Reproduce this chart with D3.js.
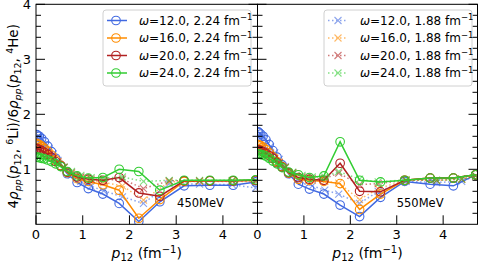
<!DOCTYPE html>
<html>
<head>
<meta charset="utf-8">
<script src="https://cdn.jsdelivr.net/npm/d3@7"></script>
<style>
    body { margin: 0; background: #fff; }
    svg { font-family: 'DejaVu Sans', sans-serif; }
</style>
</head>
<body>
<div id="chart"></div>
<script>
/* eslint-disable one-var */

// momentum mesh, fm^-1
var pSolid = [0.01, 0.03, 0.07, 0.12, 0.18, 0.25, 0.33, 0.42, 0.53, 0.67, 0.88, 1.12, 1.43, 1.78, 2.2, 2.65, 3.17, 3.72, 4.22, 4.7];
var pDotLeft = [0.01, 0.04, 0.08, 0.13, 0.2, 0.28, 0.37, 0.47, 0.6, 0.76, 0.96, 1.18, 1.45, 1.85, 2.3, 2.85, 3.5, 4.2, 4.7];
var pDotRight = [0.01, 0.04, 0.08, 0.13, 0.2, 0.28, 0.37, 0.47, 0.6, 0.76, 0.96, 1.18, 1.45, 1.75, 2.2, 2.6, 3.2, 3.86, 4.4, 4.7];

var omegas = ['12.0', '16.0', '20.0', '24.0'];
var colours = ['#4169e1', '#ff8c00', '#b22222', '#32cd32'];

// 450 MeV, 2.24 fm^-1
var left224 = [
    [1.63, 1.62, 1.6, 1.56, 1.5, 1.42, 1.32, 1.2, 1.07, 0.92, 0.76, 0.65, 0.55, 0.38, 0.05, 0.41, 0.7, 0.71, 0.71, 0.77],
    [1.47, 1.46, 1.45, 1.42, 1.38, 1.33, 1.26, 1.17, 1.07, 0.94, 0.83, 0.78, 0.72, 0.62, 0.11, 0.45, 0.78, 0.79, 0.79, 0.8],
    [1.38, 1.37, 1.36, 1.34, 1.31, 1.27, 1.22, 1.14, 1.06, 0.95, 0.86, 0.82, 0.8, 0.85, 0.57, 0.51, 0.79, 0.79, 0.79, 0.8],
    [1.22, 1.22, 1.21, 1.2, 1.19, 1.17, 1.14, 1.1, 1.05, 0.96, 0.88, 0.84, 0.85, 1.0, 0.96, 0.62, 0.8, 0.8, 0.8, 0.81]
];
// 450 MeV, 1.88 fm^-1
var left188 = [
    [1.58, 1.57, 1.55, 1.52, 1.46, 1.38, 1.28, 1.16, 1.03, 0.9, 0.78, 0.69, 0.61, 0.5, 0.38, 0.74, 0.73, 0.72, 0.66],
    [1.45, 1.44, 1.43, 1.4, 1.36, 1.3, 1.23, 1.14, 1.03, 0.92, 0.84, 0.8, 0.76, 0.7, 0.44, 0.77, 0.78, 0.78, 0.78],
    [1.37, 1.36, 1.35, 1.33, 1.3, 1.26, 1.2, 1.13, 1.04, 0.94, 0.86, 0.82, 0.8, 0.82, 0.65, 0.79, 0.79, 0.79, 0.79],
    [1.24, 1.24, 1.23, 1.22, 1.2, 1.18, 1.15, 1.1, 1.04, 0.96, 0.89, 0.85, 0.84, 0.86, 0.78, 0.8, 0.8, 0.8, 0.8]
];
// 550 MeV, 2.24 fm^-1
var right224 = [
    [1.68, 1.67, 1.64, 1.6, 1.54, 1.45, 1.34, 1.22, 1.08, 0.92, 0.73, 0.64, 0.55, 0.35, 0.14, 0.49, 0.78, 0.73, 0.7, 0.9],
    [1.45, 1.44, 1.43, 1.4, 1.36, 1.3, 1.23, 1.14, 1.05, 0.93, 0.82, 0.8, 0.78, 0.74, 0.27, 0.55, 0.8, 0.84, 0.84, 0.9],
    [1.35, 1.35, 1.34, 1.32, 1.29, 1.25, 1.2, 1.12, 1.04, 0.94, 0.85, 0.82, 0.8, 1.11, 0.6, 0.59, 0.8, 0.84, 0.84, 0.9],
    [1.28, 1.28, 1.27, 1.26, 1.24, 1.2, 1.15, 1.1, 1.03, 0.95, 0.9, 0.85, 0.88, 1.5, 0.8, 0.77, 0.8, 0.84, 0.84, 0.9]
];
// 550 MeV, 1.88 fm^-1
var right188 = [
    [1.62, 1.61, 1.59, 1.55, 1.49, 1.41, 1.3, 1.18, 1.05, 0.9, 0.78, 0.7, 0.62, 0.55, 0.38, 0.6, 0.78, 0.76, 0.78, 0.88],
    [1.43, 1.42, 1.41, 1.38, 1.34, 1.28, 1.21, 1.13, 1.04, 0.93, 0.84, 0.8, 0.78, 0.75, 0.45, 0.65, 0.8, 0.8, 0.82, 0.88],
    [1.36, 1.35, 1.34, 1.32, 1.29, 1.25, 1.19, 1.12, 1.03, 0.94, 0.86, 0.83, 0.83, 0.93, 0.72, 0.74, 0.8, 0.8, 0.82, 0.88],
    [1.27, 1.27, 1.26, 1.25, 1.23, 1.2, 1.15, 1.1, 1.03, 0.95, 0.89, 0.86, 0.86, 0.96, 0.82, 0.77, 0.81, 0.8, 0.82, 0.88]
];

var xTicks = [0, 1, 2, 3, 4];
var yTicks = [1, 2, 3, 4];
var yMinor = d3.range(1, 20).map(function(i) { return i / 5; }).filter(function(v) { return v % 1 !== 0; });

var width = 478, height = 263;
var yTop = 4.3, yBottom = 224.3;

var svg = d3.select('#chart')
    .append('svg')
    .attr('width', width)
    .attr('height', height);

var y = d3.scaleLinear()
    .domain([0, 4])
    .range([yBottom, yTop]);

var panels = [
    {x0: 36, x1: 257.5, solid: left224, dotted: left188, pDot: pDotLeft, label: '450MeV', legend: '2.24', legendX: 103},
    {x0: 257.5, x1: 477.5, solid: right224, dotted: right188, pDot: pDotRight, label: '550MeV', legend: '1.88', legendX: 324}
];

function legendText(sel, omega, cut) {
    sel.append('tspan').attr('font-style', 'italic').text('ω');
    sel.append('tspan').text('=' + omega + ', ' + cut + ' fm');
    sel.append('tspan').attr('font-size', 8.5).attr('dy', -4.5).text('−1');
}

panels.forEach(function(panel, pi) {
    var x = d3.scaleLinear()
        .domain([0, 4.74])
        .range([panel.x0, panel.x1]);

    var g = svg.append('g');
    var clipId = 'clip' + pi;

    svg.append('clipPath')
        .attr('id', clipId)
        .append('rect')
        .attr('x', panel.x0)
        .attr('y', yTop)
        .attr('width', panel.x1 - panel.x0)
        .attr('height', yBottom - yTop);

    var plot = g.append('g').attr('clip-path', 'url(#' + clipId + ')');

    var line = d3.line()
        .x(function(d) { return x(d[0]); })
        .y(function(d) { return y(d[1]); });

    colours.forEach(function(c, ci) {
        var solidPts = pSolid.map(function(p, i) { return [p, panel.solid[ci][i]]; });
        var dotPts = panel.pDot.map(function(p, i) { return [p, panel.dotted[ci][i]]; });

        plot.append('path')
            .datum(solidPts)
            .attr('d', line)
            .attr('fill', 'none')
            .attr('stroke', c)
            .attr('stroke-width', 1.5);

        plot.selectAll('.circ' + ci)
            .data(solidPts)
            .enter()
            .append('circle')
            .attr('cx', function(d) { return x(d[0]); })
            .attr('cy', function(d) { return y(d[1]); })
            .attr('r', 4.3)
            .attr('fill', 'none')
            .attr('stroke', c)
            .attr('stroke-width', 1.1);

        var dg = plot.append('g').attr('opacity', 0.6);

        dg.append('path')
            .datum(dotPts)
            .attr('d', line)
            .attr('fill', 'none')
            .attr('stroke', c)
            .attr('stroke-width', 1.5)
            .attr('stroke-dasharray', '1.5,2.5');

        dg.selectAll('.cross')
            .data(dotPts)
            .enter()
            .append('path')
            .attr('d', function(d) {
                var cx = x(d[0]), cy = y(d[1]), s = 3.5;
                return 'M' + (cx - s) + ',' + (cy - s) + 'L' + (cx + s) + ',' + (cy + s) +
                    'M' + (cx - s) + ',' + (cy + s) + 'L' + (cx + s) + ',' + (cy - s);
            })
            .attr('stroke', c)
            .attr('stroke-width', 1.1);
    });

    // frame
    g.append('rect')
        .attr('x', panel.x0)
        .attr('y', yTop)
        .attr('width', panel.x1 - panel.x0)
        .attr('height', yBottom - yTop)
        .attr('fill', 'none')
        .attr('stroke', '#000')
        .attr('stroke-width', 1);

    // inward ticks
    var ticks = g.append('g').attr('stroke', '#000').attr('stroke-width', 1);
    xTicks.forEach(function(t) {
        ticks.append('line')
            .attr('x1', x(t)).attr('x2', x(t))
            .attr('y1', yBottom).attr('y2', yBottom - 9);
    });
    yTicks.forEach(function(t) {
        ticks.append('line').attr('x1', panel.x0).attr('x2', panel.x0 + 9).attr('y1', y(t)).attr('y2', y(t));
        ticks.append('line').attr('x1', panel.x1).attr('x2', panel.x1 - 9).attr('y1', y(t)).attr('y2', y(t));
    });
    yMinor.forEach(function(t) {
        ticks.append('line').attr('x1', panel.x0).attr('x2', panel.x0 + 5).attr('y1', y(t)).attr('y2', y(t));
        ticks.append('line').attr('x1', panel.x1).attr('x2', panel.x1 - 5).attr('y1', y(t)).attr('y2', y(t));
    });

    g.selectAll('.xlab')
        .data(xTicks)
        .enter()
        .append('text')
        .attr('x', function(d) { return x(d); })
        .attr('y', yBottom + 15)
        .attr('text-anchor', 'middle')
        .attr('font-size', 13)
        .text(function(d) { return d; });

    if (pi === 0) {
        g.selectAll('.ylab')
            .data(yTicks)
            .enter()
            .append('text')
            .attr('x', panel.x0 - 5)
            .attr('y', function(d) { return y(d) + 4.5; })
            .attr('text-anchor', 'end')
            .attr('font-size', 13)
            .text(function(d) { return d; });
    }

    // x label
    var xl = g.append('text')
        .attr('x', (panel.x0 + panel.x1) / 2)
        .attr('y', 258)
        .attr('text-anchor', 'middle')
        .attr('font-size', 14);
    xl.append('tspan').attr('font-style', 'italic').text('p');
    xl.append('tspan').attr('font-size', 10).attr('dy', 3).text('12');
    xl.append('tspan').attr('dy', -3).text(' (fm');
    xl.append('tspan').attr('font-size', 10).attr('dy', -5.5).text('−1');
    xl.append('tspan').attr('dy', 5.5).text(')');

    g.append('text')
        .attr('x', x(pi === 0 ? 3.02 : 3.0))
        .attr('y', 207)
        .attr('font-size', 11.5)
        .text(panel.label);

    // legend
    var lg = g.append('g').attr('transform', 'translate(' + panel.legendX + ',10)');
    lg.append('rect')
        .attr('width', 148)
        .attr('height', 76)
        .attr('rx', 3)
        .attr('fill', 'rgba(255,255,255,0.8)')
        .attr('stroke', '#d0d0d0')
        .attr('stroke-width', 1);

    omegas.forEach(function(w, i) {
        var ey = 10.5 + i * 17.5;
        var item = lg.append('g').attr('opacity', pi === 0 ? 1 : 0.6);
        item.append('line')
            .attr('x1', 4).attr('x2', 24)
            .attr('y1', ey).attr('y2', ey)
            .attr('stroke', colours[i])
            .attr('stroke-width', 1.5)
            .attr('stroke-dasharray', pi === 0 ? null : '1.5,2.5');
        if (pi === 0) {
            item.append('circle')
                .attr('cx', 13).attr('cy', ey).attr('r', 4.3)
                .attr('fill', 'none')
                .attr('stroke', colours[i])
                .attr('stroke-width', 1.1);
        } else {
            item.append('path')
                .attr('d', 'M10.5,' + (ey - 3.5) + 'L17.5,' + (ey + 3.5) + 'M10.5,' + (ey + 3.5) + 'L17.5,' + (ey - 3.5))
                .attr('stroke', colours[i])
                .attr('stroke-width', 1.1);
        }
        lg.append('text')
            .attr('x', 36)
            .attr('y', ey + 4)
            .attr('font-size', 12)
            .call(legendText, w, panel.legend);
    });
});

// y label
var ylab = svg.append('text')
    .attr('transform', 'translate(18,' + ((yTop + yBottom) / 2 + 2) + ') rotate(-90)')
    .attr('text-anchor', 'middle')
    .attr('font-size', 13.5);
ylab.append('tspan').text('4');
ylab.append('tspan').attr('font-style', 'italic').text('ρ');
ylab.append('tspan').attr('font-style', 'italic').attr('font-size', 9.5).attr('dy', 3).text('pp');
ylab.append('tspan').attr('dy', -3).text('(');
ylab.append('tspan').attr('font-style', 'italic').text('p');
ylab.append('tspan').attr('font-size', 9.5).attr('dy', 3).text('12');
ylab.append('tspan').attr('dy', -3).text(', ');
ylab.append('tspan').attr('font-size', 9.5).attr('dy', -5).text('6');
ylab.append('tspan').attr('dy', 5).text('Li)/6');
ylab.append('tspan').attr('font-style', 'italic').text('ρ');
ylab.append('tspan').attr('font-style', 'italic').attr('font-size', 9.5).attr('dy', 3).text('pp');
ylab.append('tspan').attr('dy', -3).text('(');
ylab.append('tspan').attr('font-style', 'italic').text('p');
ylab.append('tspan').attr('font-size', 9.5).attr('dy', 3).text('12');
ylab.append('tspan').attr('dy', -3).text(', ');
ylab.append('tspan').attr('font-size', 9.5).attr('dy', -5).text('4');
ylab.append('tspan').attr('dy', 5).text('He)');
</script>
</body>
</html>
